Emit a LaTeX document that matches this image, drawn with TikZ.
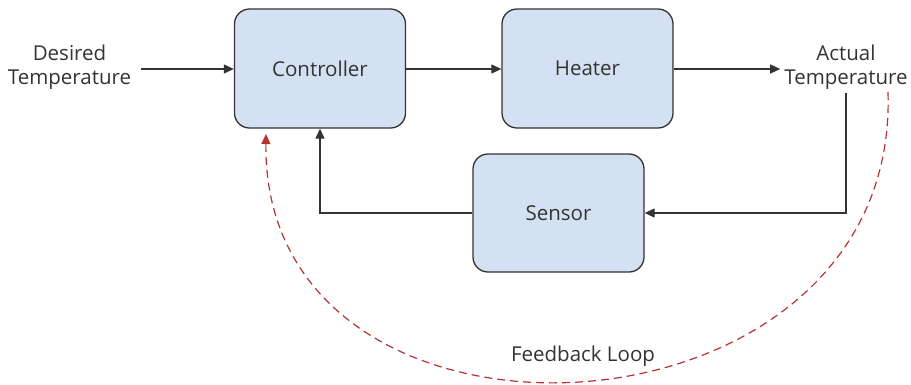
\documentclass[tikz,border=0pt]{standalone}
\usepackage{fontspec}
\setmainfont{Open Sans}
\usetikzlibrary{arrows.meta}
\definecolor{boxfill}{HTML}{D4E1F2}
\definecolor{boxline}{HTML}{333333}
\definecolor{loopred}{HTML}{B83232}
\begin{document}
\begin{tikzpicture}[x=1pt,y=-1pt,
  block/.style={draw=boxline,fill=boxfill,line width=1.3pt,rounded corners=15pt,
    minimum width=171pt,minimum height=119pt,font=\fontsize{20.5}{24}\selectfont,text=boxline},
  label/.style={align=center,font=\fontsize{20.5}{24}\selectfont,text=boxline,inner sep=4pt},
  arr/.style={draw=boxline,line width=1.2pt,-{Triangle[length=10pt,width=9pt]}},
  fb/.style={draw=loopred,line width=1.2pt,dash pattern=on 8pt off 5pt,-{Triangle[length=10pt,width=9pt]}}]
\useasboundingbox (0,0) rectangle (911,384);
\node[block] (ctrl) at (320,68.5) {Controller};
\node[block] (heat) at (587.5,68.5) {Heater};
\node[block,minimum height=118pt] (sens) at (558.5,213) {Sensor};
\node[label] (des) at (69.5,67) {Desired\\Temperature};
\node[label] (act) at (846,67) {Actual\\Temperature};
\node[label] (loop) at (583,356) {Feedback Loop};
\coordinate (desout) at (141,69);
\coordinate (fbstart) at (888,92);
\coordinate (fbend) at (266,134);
\draw[arr] (desout) -- (ctrl.west |- desout);
\draw[arr] (ctrl.east |- desout) -- (heat.west |- desout);
\draw[arr] (heat.east |- desout) -- (act.west |- desout);
\draw[arr] (act.south) |- (sens.east);
\draw[arr] (sens.west) -| (ctrl.south);
\draw[fb] (fbstart) .. controls (900,455) and (262,485) .. (fbend);
\end{tikzpicture}
\end{document}
